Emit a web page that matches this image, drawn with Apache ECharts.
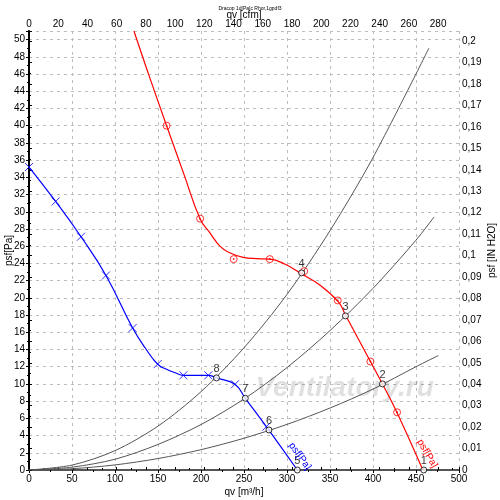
<!DOCTYPE html>
<html>
<head>
<meta charset="utf-8">
<script src="https://cdn.jsdelivr.net/npm/echarts@6/dist/echarts.min.js"></script>
<style>
html, body { margin: 0; padding: 0; background: #fff; }
#chart { width: 500px; height: 500px; }
</style>
</head>
<body>
<div id="chart"></div>
<script>
// fan curve, full speed (red)
const redQ = [122, 140, 160, 180, 199, 210, 222, 232, 249, 265, 280, 298, 315, 338, 360, 368, 397, 411, 428, 458];
const redP = [51, 45.7, 40.0, 34.4, 29.15, 27.6, 26.0, 25.3, 24.7, 24.55, 24.5, 23.9, 22.9, 21.5, 19.5, 18.0, 12.6, 10.0, 6.66, 0];
const redMarkQ = [160, 199, 238, 280, 320, 359, 397, 428];
const redMarkP = [40.0, 29.2, 24.5, 24.5, 23.1, 19.7, 12.6, 6.7];

// fan curve, low speed (blue)
const blueQ = [0, 31, 60.5, 89.5, 120.5, 135, 149.6, 160, 170, 179.5, 195, 208.5, 218, 239.5, 251.5, 276, 312];
const blueP = [35.2, 31.2, 27.1, 22.6, 16.5, 14.2, 12.3, 11.7, 11.3, 11.0, 11.0, 11.0, 10.7, 9.96, 8.33, 5.04, 0];
const blueMarkQ = [0, 31, 60.5, 89.5, 120.5, 149.6, 179.5, 208.5, 239.5, 276];
const blueMarkP = [35.2, 31.2, 27.1, 22.6, 16.5, 12.3, 11.0, 11.0, 9.96, 5.04];

// system curves (gray)
const sysAQ = [0, 50, 100, 150, 200, 250, 300, 350, 400, 465];
const sysAP = [0, 0.57, 2.25, 5.1, 9.1, 14.2, 20.4, 27.8, 36.3, 49.0];
const sysBQ = [0, 50, 100, 150, 200, 250, 300, 350, 400, 450, 471];
const sysBP = [0, 0.33, 1.25, 2.97, 5.28, 8.25, 11.9, 16.2, 21.1, 26.7, 29.4];
const sysCQ = [0, 50, 100, 150, 200, 250, 300, 350, 400, 450, 476];
const sysCP = [0, 0.15, 0.59, 1.33, 2.36, 3.69, 5.3, 7.2, 9.4, 12.0, 13.3];

// operating points
const opNames = ['1', '2', '3', '4', '5', '6', '7', '8'];
const opQ = [459, 411, 368, 317, 312, 279, 251.5, 218];
const opP = [0, 10.0, 17.9, 22.9, 0, 4.65, 8.33, 10.7];

const chart = echarts.init(document.getElementById('chart'));
const font = 'Liberation Sans, Arial, sans-serif';
const zip = (a, b) => a.map((v, i) => [v, b[i]]);
const comma = v => String(+v.toFixed(2)).replace('.', ',');
const gridLine = { show: true, lineStyle: { color: '#bdbdbd', type: [3, 4], width: 1 } };
const lbl = { color: '#000', fontSize: 10, fontFamily: font };
const nameStyle = { color: '#000', fontSize: 10, fontFamily: font };

const option = {
    animation: false,
    backgroundColor: '#fff',
    title: {
        text: 'Dracop 1d[Pa]c Rhor,1gpdf3', left: 'center', top: 1,
        textStyle: { fontSize: 5, fontWeight: 'normal', color: '#000', fontFamily: font }
    },
    grid: { left: 29, right: 41, top: 31, bottom: 30, outerBoundsMode: 'none', containLabel: false },
    xAxis: [{
        type: 'value', min: 0, max: 500, interval: 50, position: 'bottom',
        name: 'qv [m³/h]', nameLocation: 'middle', nameGap: 17, nameMoveOverlap: false, nameTextStyle: nameStyle,
        axisLine: { lineStyle: { color: '#000', width: 2 } },
        axisTick: { length: 3, lineStyle: { color: '#000' } },
        minorTick: { show: true, splitNumber: 2, length: 2, lineStyle: { color: '#000' } },
        axisLabel: Object.assign({ margin: 4 }, lbl),
        splitLine: gridLine
    }, {
        type: 'value', min: 0, max: 500 / 1.699, interval: 20, position: 'top',
        name: 'qv [cfm]', nameLocation: 'middle', nameGap: 11, nameMoveOverlap: false, nameTextStyle: nameStyle,
        axisLine: { lineStyle: { color: '#555', width: 2 } },
        axisTick: { length: 3, lineStyle: { color: '#000' } },
        minorTick: { show: true, splitNumber: 2, length: 2, lineStyle: { color: '#000' } },
        axisLabel: Object.assign({ margin: 2, showMaxLabel: false }, lbl),
        splitLine: { show: false }
    }],
    yAxis: [{
        type: 'value', min: 0, max: 51, interval: 2, position: 'left',
        name: 'psf[Pa]', nameLocation: 'middle', nameGap: 15, nameRotate: 90, nameMoveOverlap: false, nameTextStyle: nameStyle,
        axisLine: { lineStyle: { color: '#000', width: 2 } },
        axisTick: { length: 3, lineStyle: { color: '#000' } },
        minorTick: { show: true, splitNumber: 2, length: 2, lineStyle: { color: '#000' } },
        axisLabel: Object.assign({ margin: 4, showMaxLabel: false }, lbl),
        splitLine: gridLine
    }, {
        type: 'value', min: 0, max: 51 / 249.09, interval: 0.01, position: 'right',
        name: 'psf [IN H2O]', nameLocation: 'middle', nameGap: 28, nameRotate: 90, nameMoveOverlap: false, nameTextStyle: nameStyle,
        axisLine: { lineStyle: { color: '#000', width: 1.5 } },
        axisTick: { length: 3, lineStyle: { color: '#000' } },
        minorTick: { show: true, splitNumber: 2, length: 2, lineStyle: { color: '#000' } },
        axisLabel: Object.assign({ margin: 3, showMaxLabel: false, formatter: v => comma(v) }, lbl),
        splitLine: { show: false }
    }],
    series: [
        { type: 'line', data: zip(sysAQ, sysAP), smooth: 0.3, showSymbol: false, lineStyle: { color: '#555', width: 1 }, z: 2 },
        { type: 'line', data: zip(sysBQ, sysBP), smooth: 0.3, showSymbol: false, lineStyle: { color: '#555', width: 1 }, z: 2 },
        { type: 'line', data: zip(sysCQ, sysCP), smooth: 0.3, showSymbol: false, lineStyle: { color: '#555', width: 1 }, z: 2 },
        { type: 'line', data: zip(redQ, redP), smooth: 0.45, showSymbol: false, lineStyle: { color: '#ff0000', width: 1.2 }, z: 3 },
        { type: 'line', data: zip(blueQ, blueP), smooth: 0.45, showSymbol: false, lineStyle: { color: '#0000ff', width: 1.2 }, z: 3 },
        {
            type: 'scatter', data: zip(redMarkQ, redMarkP), symbol: 'circle', symbolSize: 7,
            itemStyle: { color: 'rgba(0,0,0,0)', borderColor: '#ff0000', borderWidth: 1 }, z: 4
        },
        {
            type: 'scatter', data: zip(redMarkQ, redMarkP), symbol: 'circle', symbolSize: 2,
            itemStyle: { color: '#ff0000' }, z: 4
        },
        {
            type: 'scatter', data: zip(blueMarkQ, blueMarkP), symbol: 'path://M0,0L10,10M10,0L0,10', symbolSize: 8,
            itemStyle: { color: 'none', borderColor: '#0000ff', borderWidth: 1 }, z: 4
        },
        {
            type: 'scatter', symbol: 'circle', symbolSize: 6,
            data: opQ.map((q, i) => ({ name: opNames[i], value: [q, opP[i]] })),
            itemStyle: { color: '#fff', borderColor: '#000', borderWidth: 1 },
            label: { show: true, position: 'top', distance: 0, formatter: p => p.name, color: '#000', fontSize: 11, fontFamily: font },
            z: 5
        }
    ]
};
chart.setOption(option);

// annotations placed from data coordinates
const px = (q, p) => chart.convertToPixel({ xAxisIndex: 0, yAxisIndex: 0 }, [q, p]);
const wm = px(367, 9.5), bl = px(315, 1.6), rd = px(463, 1.9);
chart.setOption({
    graphic: [
        { type: 'text', x: wm[0], y: wm[1], z: 0, silent: true,
          style: { text: 'Ventilatory.ru', font: 'italic bold 28px ' + font, fill: 'rgba(0,0,0,0.12)', align: 'center', verticalAlign: 'middle' } },
        { type: 'text', x: bl[0], y: bl[1], rotation: -0.95, z: 10,
          style: { text: 'psf[Pa]', font: '10px ' + font, fill: '#0000ff', align: 'center', verticalAlign: 'middle' } },
        { type: 'text', x: rd[0], y: rd[1], rotation: -1.05, z: 10,
          style: { text: 'psf[Pa]', font: '10px ' + font, fill: '#ff0000', align: 'center', verticalAlign: 'middle' } }
    ]
});
</script>
</body>
</html>
